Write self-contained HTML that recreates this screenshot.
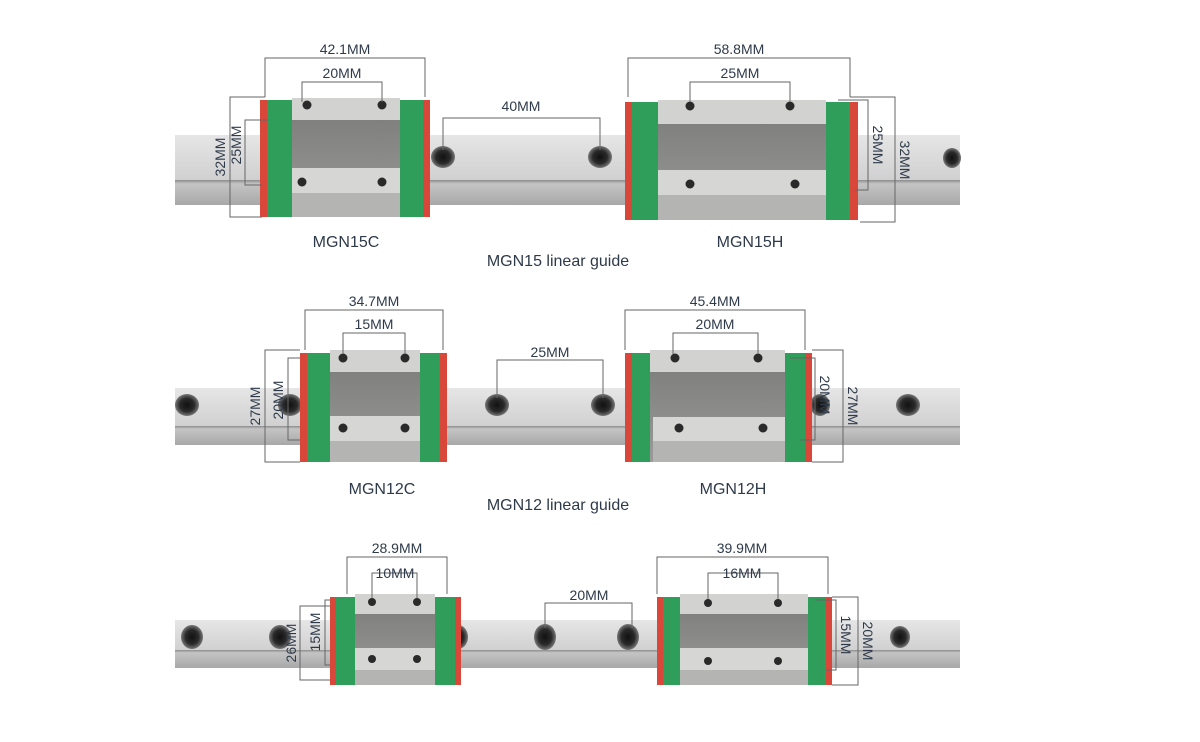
<!DOCTYPE html><html><head><style>body{margin:0;background:#fff}svg{display:block}text{font-family:"Liberation Sans",sans-serif;fill:#2e3a4a}</style></head><body>
<svg width="1200" height="742" viewBox="0 0 1200 742" xmlns="http://www.w3.org/2000/svg">
<defs>
<linearGradient id="rt" x1="0" y1="0" x2="0" y2="1"><stop offset="0" stop-color="#e6e6e6"/><stop offset="1" stop-color="#cfcfcf"/></linearGradient>
<linearGradient id="rb" x1="0" y1="0" x2="0" y2="1"><stop offset="0" stop-color="#8c8c8c"/><stop offset="0.15" stop-color="#c4c4c4"/><stop offset="1" stop-color="#a8a8a8"/></linearGradient>
<radialGradient id="h"><stop offset="0" stop-color="#111"/><stop offset="0.6" stop-color="#2a2a2a"/><stop offset="1" stop-color="#777"/></radialGradient>
<linearGradient id="bd" x1="0" y1="0" x2="0" y2="1"><stop offset="0" stop-color="#7a7a78"/><stop offset="1" stop-color="#9a9a98"/></linearGradient>
</defs>
<g stroke="none">
<!-- rails -->
<rect x="175" y="135" width="785" height="47" fill="url(#rt)"/><rect x="175" y="180" width="785" height="25" fill="url(#rb)"/>
<rect x="175" y="388" width="785" height="40" fill="url(#rt)"/><rect x="175" y="426" width="785" height="19" fill="url(#rb)"/>
<rect x="175" y="620" width="785" height="32" fill="url(#rt)"/><rect x="175" y="650" width="785" height="18" fill="url(#rb)"/>
<!-- rail holes -->
<g fill="url(#h)">
<ellipse cx="443" cy="157" rx="12" ry="11"/><ellipse cx="600" cy="157" rx="12" ry="11"/><ellipse cx="952" cy="158" rx="9" ry="10"/>
<ellipse cx="187" cy="405" rx="12" ry="11"/><ellipse cx="290" cy="405" rx="12" ry="11"/><ellipse cx="497" cy="405" rx="12" ry="11"/><ellipse cx="603" cy="405" rx="12" ry="11"/><ellipse cx="820" cy="405" rx="10" ry="11"/><ellipse cx="908" cy="405" rx="12" ry="11"/>
<ellipse cx="192" cy="637" rx="11" ry="12"/><ellipse cx="280" cy="637" rx="11" ry="12"/><ellipse cx="458" cy="637" rx="10" ry="12"/><ellipse cx="545" cy="637" rx="11" ry="13"/><ellipse cx="628" cy="637" rx="11" ry="13"/><ellipse cx="900" cy="637" rx="10" ry="11"/>
</g>
<!-- block 15C -->
<rect x="260" y="100" width="170" height="117" fill="#d8473a"/>
<rect x="267" y="100" width="25" height="117" fill="#2f9e5a"/><rect x="400" y="100" width="23" height="117" fill="#2f9e5a"/>
<rect x="292" y="98" width="108" height="119" fill="url(#bd)"/>
<rect x="292" y="98" width="108" height="22" fill="#d2d2d0"/><rect x="292" y="168" width="108" height="25" fill="#d6d6d4"/><rect x="292" y="193" width="108" height="24" fill="#b4b4b2"/>
<!-- block 15H -->
<rect x="625" y="102" width="233" height="118" fill="#d8473a"/>
<rect x="632" y="102" width="26" height="118" fill="#2f9e5a"/><rect x="826" y="102" width="24" height="118" fill="#2f9e5a"/>
<rect x="658" y="100" width="168" height="120" fill="url(#bd)"/>
<rect x="658" y="100" width="168" height="24" fill="#d2d2d0"/><rect x="658" y="170" width="168" height="25" fill="#d6d6d4"/><rect x="658" y="195" width="168" height="25" fill="#b4b4b2"/>
<!-- block 12C -->
<rect x="300" y="353" width="147" height="109" fill="#d8473a"/>
<rect x="307" y="353" width="23" height="109" fill="#2f9e5a"/><rect x="420" y="353" width="20" height="109" fill="#2f9e5a"/>
<rect x="330" y="350" width="90" height="112" fill="url(#bd)"/>
<rect x="330" y="350" width="90" height="22" fill="#d2d2d0"/><rect x="330" y="416" width="90" height="25" fill="#d6d6d4"/><rect x="330" y="441" width="90" height="21" fill="#b4b4b2"/>
<!-- block 12H -->
<rect x="625" y="353" width="187" height="109" fill="#d8473a"/>
<rect x="632" y="353" width="18" height="109" fill="#2f9e5a"/><rect x="785" y="353" width="20" height="109" fill="#2f9e5a"/>
<rect x="650" y="350" width="135" height="112" fill="url(#bd)"/>
<rect x="650" y="350" width="135" height="22" fill="#d2d2d0"/><rect x="653" y="417" width="132" height="24" fill="#d6d6d4"/><rect x="653" y="441" width="132" height="21" fill="#b4b4b2"/>
<!-- block 9C -->
<rect x="330" y="597" width="131" height="88" fill="#d8473a"/>
<rect x="336" y="597" width="19" height="88" fill="#2f9e5a"/><rect x="435" y="597" width="20" height="88" fill="#2f9e5a"/>
<rect x="355" y="594" width="80" height="91" fill="url(#bd)"/>
<rect x="355" y="594" width="80" height="20" fill="#d2d2d0"/><rect x="355" y="648" width="80" height="22" fill="#d6d6d4"/><rect x="355" y="670" width="80" height="15" fill="#b4b4b2"/>
<!-- block 9H -->
<rect x="657" y="597" width="175" height="88" fill="#d8473a"/>
<rect x="663" y="597" width="17" height="88" fill="#2f9e5a"/><rect x="808" y="597" width="18" height="88" fill="#2f9e5a"/>
<rect x="680" y="594" width="128" height="91" fill="url(#bd)"/>
<rect x="680" y="594" width="128" height="20" fill="#d2d2d0"/><rect x="680" y="648" width="128" height="22" fill="#d6d6d4"/><rect x="680" y="670" width="128" height="15" fill="#b4b4b2"/>
<!-- block holes -->
<g fill="#2a2a2a">
<circle cx="307" cy="105" r="4.5"/><circle cx="382" cy="105" r="4.5"/><circle cx="302" cy="182" r="4.5"/><circle cx="382" cy="182" r="4.5"/>
<circle cx="690" cy="106" r="4.5"/><circle cx="790" cy="106" r="4.5"/><circle cx="690" cy="184" r="4.5"/><circle cx="795" cy="184" r="4.5"/>
<circle cx="343" cy="358" r="4.5"/><circle cx="405" cy="358" r="4.5"/><circle cx="343" cy="428" r="4.5"/><circle cx="405" cy="428" r="4.5"/>
<circle cx="675" cy="358" r="4.5"/><circle cx="758" cy="358" r="4.5"/><circle cx="679" cy="428" r="4.5"/><circle cx="763" cy="428" r="4.5"/>
<circle cx="372" cy="602" r="4"/><circle cx="417" cy="602" r="4"/><circle cx="372" cy="659" r="4"/><circle cx="417" cy="659" r="4"/>
<circle cx="708" cy="603" r="4"/><circle cx="778" cy="603" r="4"/><circle cx="708" cy="661" r="4"/><circle cx="778" cy="661" r="4"/>
</g>
</g>
<!-- dimension lines -->
<g fill="none" stroke="#666" stroke-width="1">
<path d="M265 97V58H425V97M302 102V82H382V102M443 150V118H600V150"/>
<path d="M265 97H230V217H262M268 120H245V185H262"/>
<path d="M628 97V58H850V97M690 102V82H790V102"/>
<path d="M850 97H895V222H860M838 100H868V190H855"/>
<path d="M305 350V310H443V350M343 354V333H405V354M497 398V360H603V398"/>
<path d="M300 350H265V462H300M300 358H288V440H300"/>
<path d="M625 350V310H805V350M673 354V333H758V354"/>
<path d="M812 350H843V462H812M790 358H815V440H800"/>
<path d="M347 594V557H447V594M372 598V573H417V598M545 628V603H632V628"/>
<path d="M330 606H300V680H330M330 600H325V665H330"/>
<path d="M657 594V557H828V594M708 599V573H778V599"/>
<path d="M832 597H858V685H832M815 600H836V670H826"/>
</g>
<!-- labels -->
<g font-size="14" text-anchor="middle">
<text x="345" y="54">42.1MM</text><text x="342" y="78">20MM</text><text x="521" y="111">40MM</text>
<text x="739" y="54">58.8MM</text><text x="740" y="78">25MM</text>
<text transform="translate(225 157) rotate(-90)">32MM</text><text transform="translate(241 145) rotate(-90)">25MM</text>
<text transform="translate(873 145) rotate(90)">25MM</text><text transform="translate(900 160) rotate(90)">32MM</text>
<text x="374" y="306">34.7MM</text><text x="374" y="329">15MM</text><text x="550" y="357">25MM</text>
<text x="715" y="306">45.4MM</text><text x="715" y="329">20MM</text>
<text transform="translate(260 406) rotate(-90)">27MM</text><text transform="translate(283 400) rotate(-90)">20MM</text>
<text transform="translate(820 395) rotate(90)">20MM</text><text transform="translate(848 406) rotate(90)">27MM</text>
<text x="397" y="553">28.9MM</text><text x="395" y="578">10MM</text><text x="589" y="600">20MM</text>
<text x="742" y="553">39.9MM</text><text x="742" y="578">16MM</text>
<text transform="translate(296 643) rotate(-90)">26MM</text><text transform="translate(320 632) rotate(-90)">15MM</text>
<text transform="translate(841 635) rotate(90)">15MM</text><text transform="translate(863 641) rotate(90)">20MM</text>
</g>
<g font-size="16" text-anchor="middle">
<text x="346" y="247">MGN15C</text><text x="750" y="247">MGN15H</text><text x="558" y="266">MGN15 linear guide</text>
<text x="382" y="494">MGN12C</text><text x="733" y="494">MGN12H</text><text x="558" y="510">MGN12 linear guide</text>
</g>
</svg>
</body></html>
